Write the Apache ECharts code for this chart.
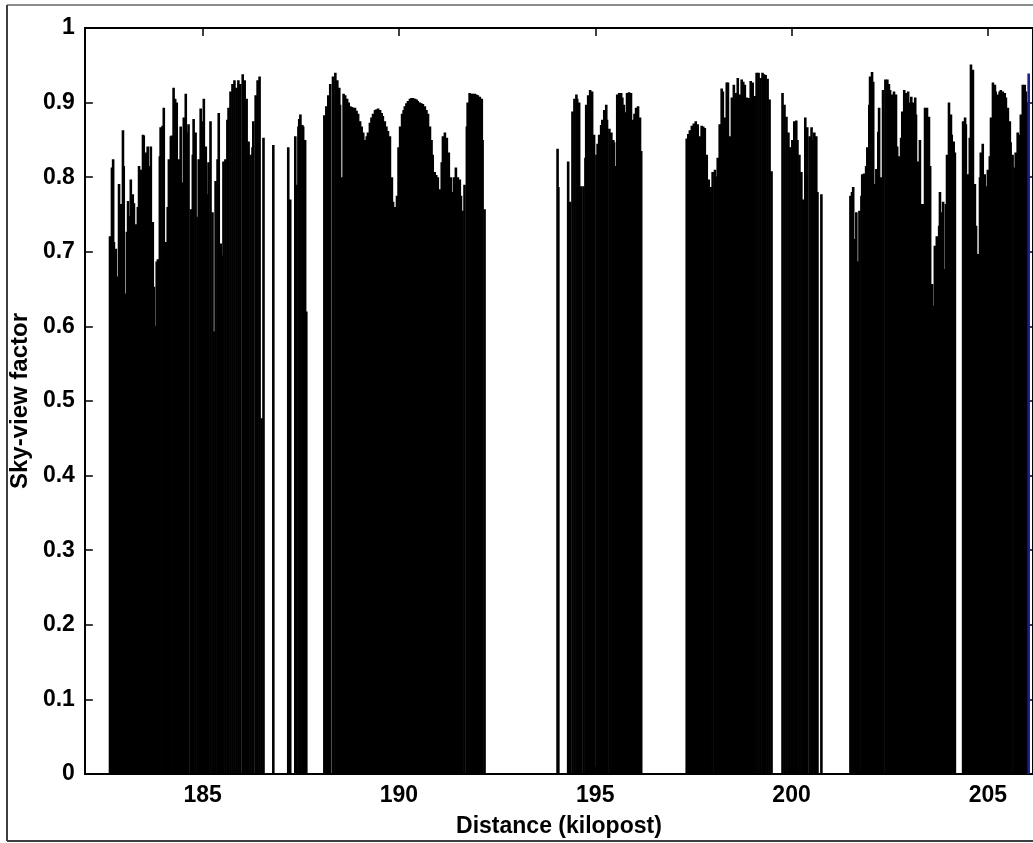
<!DOCTYPE html>
<html>
<head>
<meta charset="utf-8">
<script src="https://cdn.jsdelivr.net/npm/echarts@6/dist/echarts.min.js"></script>
<style>
html,body{margin:0;padding:0;background:#fff;}
#chart{width:1033px;height:843px;}
</style>
</head>
<body>
<div id="chart"></div>
<script>
// Distance along the route (kilopost) and sky-view factor
const distanceKm = [
  // block 182.6 - 186.5
  182.64,182.69,182.72,182.74,182.79,182.84,182.87,182.92,182.97,182.99,183.02,183.07,183.10,183.12,183.17,183.22,183.25,183.30,183.35,183.38,
  183.43,183.48,183.50,183.55,183.60,183.63,183.68,183.73,183.76,183.78,183.83,183.86,183.91,183.93,183.98,184.01,184.06,184.11,184.14,184.19,
  184.21,184.26,184.30,184.34,184.39,184.44,184.47,184.49,184.52,184.57,184.62,184.64,184.70,184.75,184.77,184.82,184.87,184.90,184.95,185.00,185.03,
  185.08,185.13,185.15,185.20,185.25,185.28,185.33,185.38,185.41,185.46,185.51,185.53,185.58,185.63,185.66,185.71,185.76,185.81,185.86,185.91,
  185.96,186.02,186.07,186.12,186.14,186.17,186.22,186.27,186.29,186.35,186.40,186.45,186.50,
  // isolated bars 186.5 - 187.6
  186.55,186.80,187.18,187.23,187.36,187.39,187.44,187.46,187.49,187.54,187.56,187.61,187.64,
  // block 188.1 - 192.2
  188.10,188.15,188.20,188.25,188.32,188.38,188.43,188.48,188.50,188.55,188.59,188.63,188.68,188.72,188.76,188.80,188.83,188.88,188.92,188.96,189.01,189.05,189.09,189.14,189.18,189.21,189.26,189.30,
  189.34,189.39,189.43,189.47,189.52,189.56,189.59,189.64,189.68,189.72,189.77,189.82,189.85,189.90,189.95,189.99,190.03,190.08,190.12,190.15,190.19,190.23,190.28,190.32,190.36,190.41,190.45,190.48,
  190.53,190.57,190.61,190.66,190.70,190.74,190.79,190.83,190.86,190.91,190.95,190.99,191.04,191.09,191.12,191.17,191.22,191.27,191.32,191.35,191.40,191.45,191.50,191.55,191.58,191.62,
  191.67,191.73,191.75,191.80,191.84,191.88,191.93,191.97,192.01,192.06,192.11,192.13,192.18,
  // single bar near 194
  194.04,194.06,
  // block 194.3 - 196.2
  194.31,194.36,194.42,194.47,194.52,194.54,194.59,194.64,194.70,194.75,194.77,194.82,194.87,194.92,194.97,195.03,195.06,195.10,195.15,195.18,195.23,
  195.28,195.30,195.36,195.41,195.46,195.48,195.53,195.56,195.61,195.66,195.69,195.73,195.76,195.81,195.86,195.91,195.96,196.00,196.04,196.09,196.14,196.17,
  // block 197.3 - 199.5
  197.33,197.37,197.41,197.46,197.51,197.56,197.61,197.66,197.71,197.75,197.79,197.84,197.89,197.94,197.99,198.05,198.10,198.12,198.17,198.22,198.25,198.30,
  198.35,198.38,198.43,198.48,198.53,198.58,198.63,198.68,198.73,198.77,198.81,198.86,198.91,198.96,199.01,199.06,199.11,199.16,199.21,199.26,199.30,199.34,
  199.39,199.44,199.49,
  // block 199.8 - 200.8
  199.77,199.82,199.87,199.92,199.94,199.99,200.02,200.07,200.12,200.15,200.20,200.25,200.30,200.35,200.40,200.46,200.51,200.53,200.58,200.63,
  200.66,200.76,
  // block 201.5 - 204.2
  201.50,201.54,201.57,201.62,201.65,201.70,201.73,201.78,201.80,201.85,201.90,201.93,201.98,202.00,202.05,202.08,202.13,202.16,202.21,202.23,202.28,
  202.33,202.39,202.44,202.48,202.51,202.56,202.61,202.66,202.69,202.74,202.79,202.82,202.87,202.92,202.97,203.02,203.05,203.10,203.15,203.17,203.22,
  203.27,203.30,203.35,203.40,203.45,203.50,203.53,203.58,203.63,203.65,203.70,203.76,203.78,203.81,203.86,203.91,203.93,203.96,204.01,204.06,
  204.08,204.13,204.16,
  // block 204.4 - 206.0
  204.37,204.42,204.44,204.49,204.54,204.57,204.62,204.67,204.70,204.75,204.80,204.82,204.87,204.92,204.95,205.00,205.05,205.08,205.13,205.18,
  205.20,205.25,205.30,205.33,205.38,205.43,205.46,205.51,205.56,205.58,205.63,205.68,205.71,205.76,205.81,205.84,205.89,205.94,205.97,206.01
];
const skyView = [
  0.721,0.813,0.824,0.713,0.704,0.667,0.791,0.764,0.863,0.815,0.644,0.727,0.768,0.748,0.797,0.777,0.765,0.737,0.760,0.815,
  0.810,0.857,0.856,0.833,0.841,0.815,0.841,0.740,0.653,0.601,0.687,0.690,0.828,0.867,0.869,0.893,0.713,0.760,0.824,0.855,
  0.856,0.920,0.905,0.900,0.824,0.868,0.744,0.793,0.880,0.912,0.860,0.871,0.757,0.830,0.878,0.860,0.747,0.824,0.892,0.875,0.905,
  0.841,0.777,0.820,0.875,0.753,0.593,0.795,0.824,0.886,0.711,0.695,0.821,0.824,0.877,0.893,0.915,0.925,0.930,0.920,0.930,
  0.925,0.938,0.930,0.905,0.827,0.848,0.830,0.840,0.875,0.910,0.930,0.935,0.477,
  0.853,0.843,0.840,0.770,0.855,0.790,0.868,0.878,0.884,0.870,0.868,0.850,0.620,
  0.883,0.895,0.910,0.925,0.935,0.940,0.930,0.920,0.897,0.800,0.912,0.910,0.905,0.900,0.895,0.894,0.893,0.893,0.889,0.885,0.875,0.868,0.860,0.850,0.855,0.860,0.873,0.880,
  0.885,0.890,0.891,0.892,0.890,0.886,0.882,0.875,0.868,0.862,0.855,0.800,0.767,0.760,0.775,0.840,0.868,0.885,0.890,0.895,0.899,0.902,0.905,0.906,0.906,0.905,0.904,0.902,
  0.900,0.899,0.898,0.895,0.890,0.885,0.868,0.850,0.830,0.807,0.803,0.800,0.784,0.820,0.855,0.860,0.853,0.833,0.800,0.780,0.800,0.813,0.800,0.797,0.775,0.755,
  0.790,0.868,0.900,0.913,0.912,0.912,0.912,0.911,0.910,0.908,0.905,0.850,0.757,
  0.838,0.787,
  0.821,0.767,0.888,0.905,0.911,0.905,0.900,0.788,0.788,0.826,0.897,0.910,0.917,0.915,0.857,0.830,0.845,0.857,0.870,0.877,0.890,
  0.897,0.877,0.865,0.860,0.850,0.847,0.815,0.911,0.913,0.913,0.907,0.897,0.887,0.913,0.914,0.913,0.877,0.885,0.893,0.895,0.880,0.835,
  0.852,0.858,0.863,0.869,0.872,0.875,0.871,0.855,0.869,0.868,0.866,0.830,0.797,0.787,0.807,0.810,0.801,0.826,0.871,0.919,0.915,0.880,
  0.927,0.927,0.855,0.907,0.924,0.913,0.933,0.911,0.931,0.928,0.924,0.907,0.906,0.929,0.927,0.909,0.940,0.940,0.933,0.940,0.938,0.937,
  0.932,0.904,0.808,
  0.913,0.897,0.881,0.860,0.840,0.840,0.850,0.875,0.876,0.850,0.830,0.807,0.770,0.880,0.867,0.855,0.867,0.850,0.860,0.855,
  0.780,0.777,
  0.775,0.780,0.787,0.717,0.753,0.687,0.755,0.775,0.804,0.805,0.815,0.840,0.897,0.935,0.941,0.928,0.791,0.811,0.861,0.893,0.800,
  0.917,0.931,0.931,0.925,0.917,0.911,0.915,0.911,0.841,0.828,0.853,0.888,0.917,0.913,0.915,0.900,0.908,0.900,0.907,0.884,0.821,
  0.850,0.764,0.764,0.893,0.893,0.881,0.815,0.657,0.628,0.708,0.721,0.735,0.780,0.753,0.767,0.677,0.764,0.830,0.900,0.884,
  0.857,0.848,0.833,
  0.875,0.880,0.871,0.804,0.853,0.951,0.944,0.791,0.735,0.697,0.800,0.833,0.845,0.804,0.788,0.810,0.828,0.880,0.927,0.924,
  0.915,0.911,0.915,0.917,0.915,0.913,0.907,0.893,0.875,0.847,0.830,0.813,0.833,0.860,0.857,0.884,0.924,0.924,0.915,0.900
];
// highlighted (blue) sample at the right edge
const highlightKm = [206.04];
const highlightSvf = [0.939];

const xTicks = [185, 190, 195, 200, 205];
const yTickStep = 0.1;

const data = distanceKm.map((k, i) => [k, skyView[i]]);
highlightKm.forEach((k, i) => data.push({ value: [k, highlightSvf[i]], itemStyle: { color: '#1c1c96' } }));

const chart = echarts.init(document.getElementById('chart'), null, { renderer: 'canvas' });
const font = 'Arial, "Liberation Sans", Helvetica, sans-serif';
const axisLine = { show: true, onZero: false, lineStyle: { color: '#000', width: 2 } };
const tick = { show: true, inside: true, length: 8, lineStyle: { color: '#000', width: 1.5 } };

chart.setOption({
  animation: false,
  backgroundColor: '#fff',
  grid: { left: 84, right: -2, top: 28, bottom: 65, containLabel: false },
  xAxis: [
    {
      type: 'value', min: 182, max: 206.15, position: 'bottom',
      axisLine: axisLine,
      axisTick: Object.assign({ customValues: xTicks }, tick),
      axisLabel: { customValues: xTicks, color: '#000', fontSize: 23, fontWeight: 'bold', fontFamily: font, margin: 10 },
      splitLine: { show: false },
      name: 'Distance (kilopost)', nameLocation: 'middle', nameGap: 41,
      nameTextStyle: { color: '#000', fontSize: 23, fontWeight: 'bold', fontFamily: font }
    },
    {
      type: 'value', min: 182, max: 206.15, position: 'top',
      axisLine: axisLine,
      axisTick: Object.assign({ customValues: xTicks }, tick),
      axisLabel: { show: false },
      splitLine: { show: false }
    }
  ],
  yAxis: [
    {
      type: 'value', min: 0, max: 1, interval: yTickStep, position: 'left',
      axisLine: axisLine,
      axisTick: tick,
      axisLabel: { color: '#000', fontSize: 23, fontWeight: 'bold', fontFamily: font, margin: 10 },
      splitLine: { show: false },
      name: 'Sky-view factor', nameLocation: 'middle', nameGap: 52,
      nameTextStyle: { color: '#000', fontSize: 24, fontWeight: 'bold', fontFamily: font }
    },
    {
      type: 'value', min: 0, max: 1, interval: yTickStep, position: 'right',
      axisLine: axisLine, axisTick: tick,
      axisLabel: { show: false }, splitLine: { show: false }
    }
  ],
  graphic: [
    { type: 'line', shape: { x1: 7, y1: 5, x2: 1040, y2: 5 }, style: { stroke: '#8c8c8c', lineWidth: 2 }, z: 100 },
    { type: 'line', shape: { x1: 7, y1: 5, x2: 7, y2: 841 }, style: { stroke: '#404040', lineWidth: 2 }, z: 100 },
    { type: 'line', shape: { x1: 7, y1: 841, x2: 1040, y2: 841 }, style: { stroke: '#404040', lineWidth: 2 }, z: 100 }
  ],
  series: [
    {
      type: 'bar', xAxisIndex: 0, yAxisIndex: 0,
      data: data, barWidth: 2.6,
      itemStyle: { color: '#000' },
      emphasis: { disabled: true }
    }
  ]
});
</script>
</body>
</html>
